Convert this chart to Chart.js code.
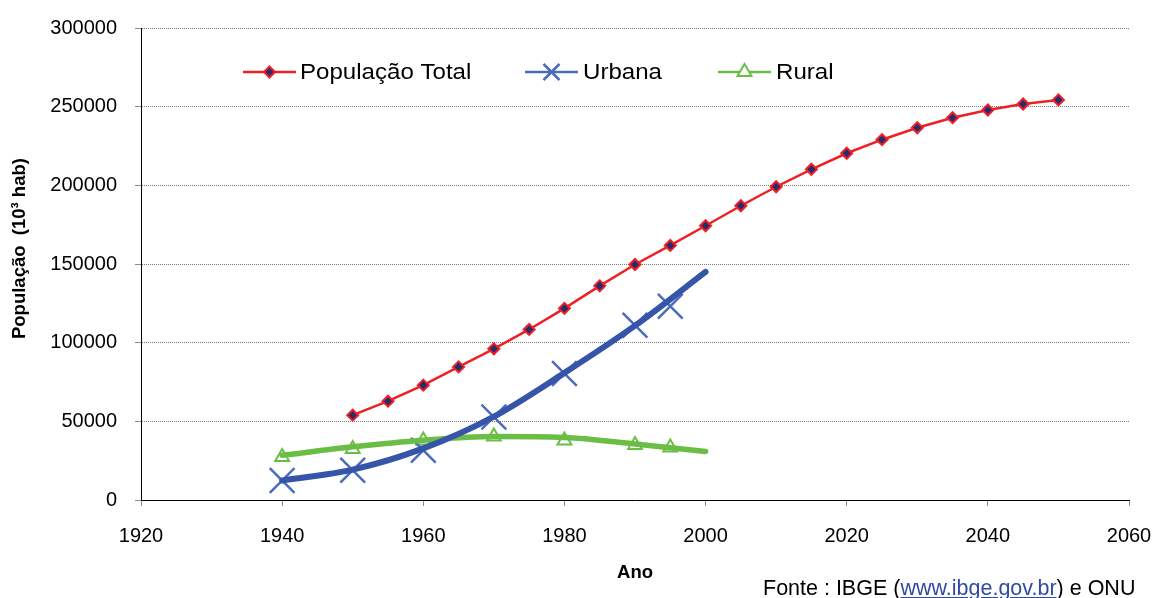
<!DOCTYPE html>
<html>
<head>
<meta charset="utf-8">
<script src="https://cdn.jsdelivr.net/npm/chart.js@4/dist/chart.umd.min.js"></script>
<style>
  html, body { margin: 0; padding: 0; background: #fff; }
  #wrap { position: relative; width: 1153px; height: 598px; }
  #fonte { position: absolute; left: 763px; top: 575px; font-family: "Liberation Sans", Arial, sans-serif; font-size: 21.5px; line-height: 26px; color: #000; white-space: nowrap; }
  #fonte a { color: #2F4BA3; text-decoration: underline; }
</style>
</head>
<body>
<div id="wrap">
  <canvas id="c" width="1153" height="598"></canvas>
  <div id="fonte">Fonte : IBGE (<a href="#">www.ibge.gov.br</a>) e ONU</div>
</div>
<script>
// ---- Data ----
const serieNomes = ['População Total', 'Urbana', 'Rural'];

const anosTotal = [1950, 1955, 1960, 1965, 1970, 1975, 1980, 1985, 1990, 1995, 2000,
                   2005, 2010, 2015, 2020, 2025, 2030, 2035, 2040, 2045, 2050];
const popTotal  = [53900, 62800, 73000, 84600, 96100, 108400, 121800, 136100, 149700, 161800, 174300,
                   187000, 199100, 210200, 220400, 229000, 236600, 243000, 247900, 251700, 254300];

const anosCenso = [1940, 1950, 1960, 1970, 1980, 1990, 1995];
const popUrbana = [12400, 18900, 31600, 52800, 80400, 111100, 123200];
const popRural  = [27400, 32400, 37800, 40300, 37800, 35000, 33300];

// trend curves (as drawn in the reference)
const anosTend     = [1940, 1950, 1960, 1970, 1980, 1990, 2000];
const urbanaTend   = [12400, 19300, 32800, 53000, 80800, 110800, 145000];
const ruralTend    = [28400, 33800, 38000, 40300, 39800, 35600, 30800];

const xTicks = [1920, 1940, 1960, 1980, 2000, 2020, 2040, 2060];
const yTicks = [0, 50000, 100000, 150000, 200000, 250000, 300000];

const tituloX = 'Ano';
const tituloY = 'População  (10³ hab)';

// ---- Styles ----
const FONT = '"Liberation Sans", Arial, sans-serif';
const RED = '#EE2026';
const NAVY = '#262C6E';
const BLUE_LINE = '#3655A8';
const BLUE_MARK = '#4A6CBE';
const GREEN = '#6BBE45';

const toXY = (xs, ys) => xs.map((x, i) => ({x: x, y: ys[i]}));

const legendPlugin = {
  id: 'legendaInterna',
  afterDraw(chart) {
    const ctx = chart.ctx;
    ctx.save();
    const y = 72;
    const items = [
      {x0: 243, x1: 296, tx: 300, kind: 'diamond', color: RED},
      {x0: 525, x1: 578, tx: 583, kind: 'cross', color: BLUE_MARK},
      {x0: 718, x1: 771, tx: 776, kind: 'triangle', color: GREEN}
    ];
    items.forEach((it, i) => {
      ctx.strokeStyle = it.color;
      ctx.lineWidth = 2.5;
      ctx.beginPath(); ctx.moveTo(it.x0, y); ctx.lineTo(it.x1, y); ctx.stroke();
      const cx = (it.x0 + it.x1) / 2;
      if (it.kind === 'diamond') {
        ctx.beginPath();
        ctx.moveTo(cx, y - 5.5); ctx.lineTo(cx + 5.5, y); ctx.lineTo(cx, y + 5.5); ctx.lineTo(cx - 5.5, y); ctx.closePath();
        ctx.fillStyle = NAVY; ctx.fill();
        ctx.lineWidth = 2; ctx.strokeStyle = RED; ctx.stroke();
      } else if (it.kind === 'cross') {
        ctx.lineWidth = 2.5; ctx.strokeStyle = BLUE_MARK;
        ctx.beginPath();
        ctx.moveTo(cx - 8, y - 8); ctx.lineTo(cx + 8, y + 8);
        ctx.moveTo(cx + 8, y - 8); ctx.lineTo(cx - 8, y + 8);
        ctx.stroke();
      } else {
        ctx.beginPath();
        ctx.moveTo(cx, y - 8); ctx.lineTo(cx + 7, y + 4); ctx.lineTo(cx - 7, y + 4); ctx.closePath();
        ctx.fillStyle = '#fff'; ctx.fill();
        ctx.lineWidth = 2; ctx.strokeStyle = GREEN; ctx.stroke();
      }
      ctx.save();
      ctx.translate(it.tx, y + 1);
      ctx.scale(1.07, 1);
      ctx.fillStyle = '#000';
      ctx.font = '22.5px ' + FONT;
      ctx.textBaseline = 'middle';
      ctx.textAlign = 'left';
      ctx.fillText(serieNomes[i], 0, 0);
      ctx.restore();
    });
    ctx.restore();
  }
};

new Chart(document.getElementById('c'), {
  type: 'line',
  data: {
    datasets: [
      {
        label: serieNomes[0],
        data: toXY(anosTotal, popTotal),
        borderColor: RED, borderWidth: 2.5,
        pointStyle: 'rectRot', pointRadius: 5.5,
        pointBackgroundColor: NAVY, pointBorderColor: RED, pointBorderWidth: 2,
        tension: 0, order: 2
      },
      {
        label: serieNomes[1] + ' tendência',
        data: toXY(anosTend, urbanaTend),
        borderColor: BLUE_LINE, borderWidth: 6, borderCapStyle: 'round',
        pointRadius: 0, cubicInterpolationMode: 'monotone', order: 0
      },
      {
        label: serieNomes[1],
        data: toXY(anosCenso, popUrbana),
        showLine: false,
        pointStyle: 'crossRot', pointRadius: 17.5,
        pointBorderColor: BLUE_MARK, pointBorderWidth: 2.5, order: 1
      },
      {
        label: serieNomes[2] + ' tendência',
        data: toXY(anosTend, ruralTend),
        borderColor: GREEN, borderWidth: 5.5, borderCapStyle: 'round',
        pointRadius: 0, cubicInterpolationMode: 'monotone', order: 0
      },
      {
        label: serieNomes[2],
        data: toXY(anosCenso, popRural),
        showLine: false,
        pointStyle: 'triangle', pointRadius: 8,
        pointBackgroundColor: '#fff', pointBorderColor: GREEN, pointBorderWidth: 2, order: 1
      }
    ]
  },
  options: {
    responsive: false,
    animation: false,
    devicePixelRatio: 1,
    layout: { padding: { left: 0, top: 28, right: 24, bottom: 0 } },
    plugins: { legend: { display: false }, tooltip: { enabled: false } },
    scales: {
      x: {
        type: 'linear', min: xTicks[0], max: xTicks[xTicks.length - 1],
        afterBuildTicks: s => { s.ticks = xTicks.map(v => ({value: v})); },
        afterFit: s => { s.height = 98; s.paddingLeft = 0; s.paddingRight = 0; },
        ticks: { callback: v => String(v), color: '#000', padding: 18, maxRotation: 0, autoSkip: false,
                 font: { family: FONT, size: 20 } },
        grid: { drawOnChartArea: false, drawTicks: true, tickLength: 6, tickColor: '#8c8c8c', color: '#8c8c8c' },
        border: { color: '#000', width: 1 },
        title: { display: true, text: tituloX, color: '#000', font: { family: FONT, size: 18.5, weight: 'bold' },
                 padding: { top: 0, bottom: 14 } }
      },
      y: {
        type: 'linear', min: yTicks[0], max: yTicks[yTicks.length - 1],
        afterBuildTicks: s => { s.ticks = yTicks.map(v => ({value: v})); },
        afterFit: s => { s.width = 141; s.paddingTop = 0; s.paddingBottom = 0; },
        ticks: { callback: v => String(v), color: '#000', padding: 18, font: { family: FONT, size: 20 } },
        grid: { color: '#7a7a7a', lineWidth: 1, tickLength: 6, tickColor: '#8c8c8c', tickBorderDash: [] },
        border: { color: '#000', width: 1, dash: [1, 1] },
        title: { display: true, text: '      ' + tituloY, color: '#000', font: { family: FONT, size: 18.5, weight: 'bold' },
                 padding: { top: 9, bottom: 0 } }
      }
    }
  },
  plugins: [legendPlugin]
});
</script>
</body>
</html>
